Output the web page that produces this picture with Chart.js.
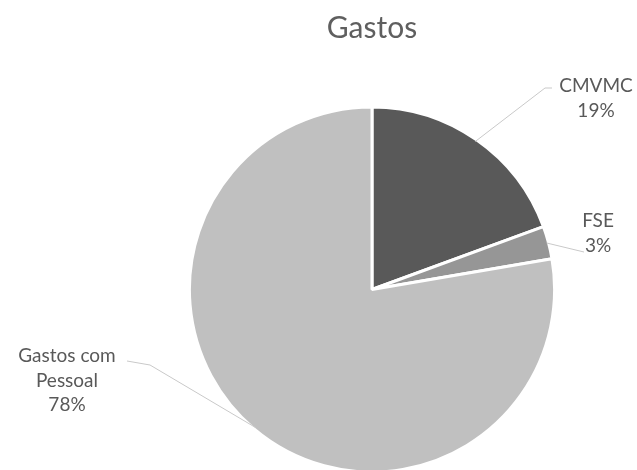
<!DOCTYPE html>
<html>
<head>
<meta charset="utf-8">
<script src="https://cdn.jsdelivr.net/npm/chart.js@4"></script>
<style>
  html, body { margin: 0; padding: 0; background: #fff; }
  #wrap { width: 637px; height: 470px; }
</style>
</head>
<body>
<div id="wrap"><canvas id="pie-chart" width="637" height="470"></canvas></div>
<script>
// values (shares in %)
const categories = ['CMVMC', 'FSE', 'Gastos com Pessoal'];
const values = [19.4, 2.9, 77.7];
const sliceColors = ['#595959', '#969696', '#c0c0c0'];

// where each outside label sits, and where its leader line ends
const labelLayout = [
    { lines: ['CMVMC'], x: 596, y: 86, lineEnd: [[545, 88], [552, 88]] },
    { lines: ['FSE'], x: 598, y: 221, lineEnd: [[584, 252]] },
    { lines: ['Gastos com', 'Pessoal'], x: 67, y: 356, lineEnd: [[150, 365], [127, 361]] }
];

const outsideLabels = {
    id: 'outsideLabels',
    afterDatasetsDraw(chart) {
        const ctx = chart.ctx;
        const meta = chart.getDatasetMeta(0);
        const total = values.reduce((a, b) => a + b, 0);
        ctx.save();
        meta.data.forEach((arc, i) => {
            const layout = labelLayout[i];
            const mid = (arc.startAngle + arc.endAngle) / 2;
            const r = arc.outerRadius - 2;
            // leader line from slice edge
            ctx.strokeStyle = '#c9c9c9';
            ctx.lineWidth = 1;
            ctx.beginPath();
            ctx.moveTo(arc.x + Math.cos(mid) * r, arc.y + Math.sin(mid) * r);
            layout.lineEnd.forEach(p => ctx.lineTo(p[0], p[1]));
            ctx.stroke();

            // text
            const pct = Math.round(values[i] / total * 100) + '%';
            const lines = layout.lines.concat([pct]);
            ctx.fillStyle = '#595959';
            ctx.font = '19px Lato';
            ctx.textAlign = 'center';
            ctx.textBaseline = 'middle';
            lines.forEach((t, k) => ctx.fillText(t, layout.x, layout.y + k * 24.5));
        });
        ctx.restore();
    }
};

new Chart(document.getElementById('pie-chart'), {
    type: 'pie',
    data: {
        labels: categories,
        datasets: [{
            data: values,
            backgroundColor: sliceColors,
            borderColor: '#ffffff',
            borderWidth: 3
        }]
    },
    options: {
        responsive: false,
        animation: false,
        radius: '102%',
        layout: { padding: { left: 187, right: 80, top: 0, bottom: -7 } },
        plugins: {
            legend: { display: false },
            tooltip: { enabled: false },
            title: {
                display: true,
                text: 'Gastos',
                color: '#5f5f5f',
                font: { family: 'Lato', size: 30, weight: 'normal' },
                padding: { top: 10, bottom: 63 }
            }
        }
    },
    plugins: [outsideLabels]
});
</script>
</body>
</html>
